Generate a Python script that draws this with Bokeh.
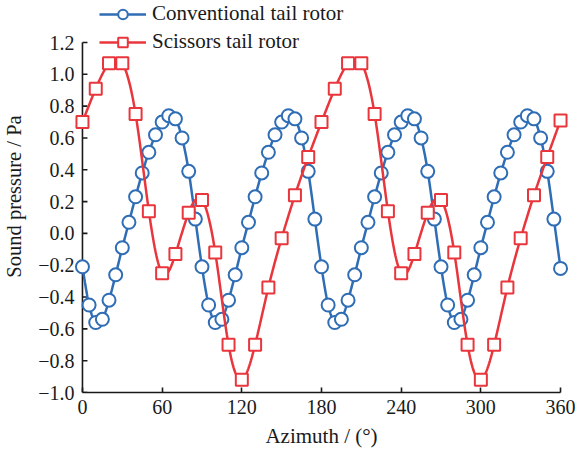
import numpy as np
from bokeh.plotting import figure
from bokeh.models import (Range1d, FixedTicker, CustomJSTickFormatter, Legend,
                          LegendItem)
from bokeh.embed import file_html
from bokeh.resources import INLINE

# ---------------- data ----------------
azimuth_conv = list(range(0, 361, 5))
pressure_conv = [
    -0.21, -0.45, -0.56, -0.54, -0.42, -0.26, -0.09, 0.07, 0.23, 0.38,
    0.51, 0.62, 0.70, 0.74, 0.72, 0.60, 0.39, 0.09,
    -0.21, -0.45, -0.56, -0.54, -0.42, -0.26, -0.09, 0.07, 0.23, 0.38,
    0.51, 0.62, 0.70, 0.74, 0.72, 0.60, 0.39, 0.09,
    -0.21, -0.45, -0.56, -0.54, -0.42, -0.26, -0.09, 0.07, 0.23, 0.38,
    0.51, 0.62, 0.70, 0.74, 0.72, 0.60, 0.39, 0.09,
    -0.21, -0.45, -0.56, -0.54, -0.42, -0.26, -0.09, 0.07, 0.23, 0.38,
    0.51, 0.62, 0.70, 0.74, 0.72, 0.60, 0.39, 0.09,
    -0.22,
]
azimuth_sci = list(range(0, 361, 10))
pressure_sci = [
    0.70, 0.91, 1.07, 1.07, 0.75, 0.14, -0.25, -0.13, 0.13, 0.21,
    -0.12, -0.70, -0.92, -0.70, -0.34, -0.03, 0.24, 0.48,
    0.70, 0.91, 1.07, 1.07, 0.75, 0.14, -0.25, -0.13, 0.13, 0.21,
    -0.12, -0.70, -0.92, -0.70, -0.34, -0.03, 0.24, 0.48,
    0.71,
]
series_names = ["Conventional tail rotor", "Scissors tail rotor"]
x_ticks = [0, 60, 120, 180, 240, 300, 360]
y_ticks = [-1.0, -0.8, -0.6, -0.4, -0.2, 0.0, 0.2, 0.4, 0.6, 0.8, 1.0, 1.2]
x_title = "Azimuth / (°)"
y_title = "Sound pressure / Pa"

BLUE = "#2f6db5"
RED = "#e8363c"
INK = "#1a1a1a"
FONT = "Liberation Serif"

# ---------------- layout constants (pixels) ----------------
W, H = 577, 450
BORDER_L, BORDER_R, BORDER_B = 74, 9, 58
PAD_X = 6            # data units of padding so edge markers are not clipped
AXIS_TOP_PX = 42     # space between canvas top and the top of the y axis
frame_w = W - BORDER_L - BORDER_R
frame_h = H - BORDER_B
x_start, x_end = x_ticks[0] - PAD_X, x_ticks[-1] + PAD_X
px_per_x = frame_w / (x_end - x_start)
px_per_y = (frame_h - AXIS_TOP_PX) / (y_ticks[-1] - y_ticks[0])
y_top = y_ticks[-1] + AXIS_TOP_PX / px_per_y
tick_len = 5 / px_per_x


def smooth(x, y, per_seg=16):
    """Natural cubic spline drawn through the data points (line rendering only)."""
    x = np.asarray(x, float)
    y = np.asarray(y, float)
    n = len(x)
    h = np.diff(x)
    A = np.zeros((n, n))
    b = np.zeros(n)
    A[0, 0] = 1.0
    A[-1, -1] = 1.0
    for i in range(1, n - 1):
        A[i, i - 1] = h[i - 1]
        A[i, i] = 2 * (h[i - 1] + h[i])
        A[i, i + 1] = h[i]
        b[i] = 6 * ((y[i + 1] - y[i]) / h[i] - (y[i] - y[i - 1]) / h[i - 1])
    M = np.linalg.solve(A, b)
    xs, ys = [], []
    for i in range(n - 1):
        t = np.linspace(x[i], x[i + 1], per_seg, endpoint=(i == n - 2))
        hi = h[i]
        s = (M[i] * (x[i + 1] - t) ** 3 / (6 * hi)
             + M[i + 1] * (t - x[i]) ** 3 / (6 * hi)
             + (y[i] / hi - M[i] * hi / 6) * (x[i + 1] - t)
             + (y[i + 1] / hi - M[i + 1] * hi / 6) * (t - x[i]))
        xs.extend(t.tolist())
        ys.extend(s.tolist())
    return xs, ys


p = figure(width=W, height=H,
           x_range=Range1d(x_start, x_end), y_range=Range1d(y_ticks[0], y_top),
           output_backend="svg", toolbar_location=None,
           min_border_left=BORDER_L, min_border_right=BORDER_R,
           min_border_top=0, min_border_bottom=BORDER_B)
p.outline_line_color = None
p.xgrid.visible = False
p.ygrid.visible = False
p.background_fill_color = "white"
p.border_fill_color = "white"

# vertical axis line and inward ticks at azimuth 0
p.segment(x0=[x_ticks[0]], y0=[y_ticks[0]], x1=[x_ticks[0]], y1=[y_ticks[-1]],
          line_color=INK, line_width=1.6)
p.segment(x0=[x_ticks[0]] * len(y_ticks), y0=y_ticks,
          x1=[x_ticks[0] + tick_len] * len(y_ticks), y1=y_ticks,
          line_color=INK, line_width=1.6)

# series
bx, by = smooth(azimuth_conv, pressure_conv)
l1 = p.line(bx, by, line_color=BLUE, line_width=2.5)
s1 = p.scatter(azimuth_conv, pressure_conv, marker="circle", size=13,
               line_color=BLUE, line_width=2, fill_color="white")
rx, ry = smooth(azimuth_sci, pressure_sci)
l2 = p.line(rx, ry, line_color=RED, line_width=2.5)
s2 = p.scatter(azimuth_sci, pressure_sci, marker="square", size=12,
               line_color=RED, line_width=2, fill_color="white")

# bottom axis
xa = p.xaxis[0]
xa.ticker = FixedTicker(ticks=x_ticks)
xa.bounds = (x_ticks[0], x_ticks[-1])
xa.axis_line_color = INK
xa.axis_line_width = 1.6
xa.major_tick_line_color = INK
xa.major_tick_line_width = 1.6
xa.major_tick_in = 5
xa.major_tick_out = 0
xa.minor_tick_in = 0
xa.minor_tick_out = 0
xa.major_label_text_font = FONT
xa.major_label_text_font_size = "20px"
xa.major_label_text_color = INK
xa.major_label_standoff = 7
xa.axis_label = x_title
xa.axis_label_text_font = FONT
xa.axis_label_text_font_size = "21px"
xa.axis_label_text_font_style = "normal"
xa.axis_label_text_color = INK
xa.axis_label_standoff = 7

# left axis: tick labels and title only (line/ticks drawn at azimuth 0)
ya = p.yaxis[0]
ya.ticker = FixedTicker(ticks=y_ticks)
ya.bounds = (y_ticks[0], 1.3)
ya.axis_line_color = None
ya.major_tick_line_color = None
ya.minor_tick_line_color = None
ya.major_tick_in = 0
ya.major_tick_out = 0
ya.major_label_standoff = 0
ya.major_label_text_font = FONT
ya.major_label_text_font_size = "20px"
ya.major_label_text_color = INK
ya.formatter = CustomJSTickFormatter(
    code="return tick.toFixed(1).replace('-', '\u2212');")
ya.axis_label = y_title
ya.axis_label_text_font = FONT
ya.axis_label_text_font_size = "20.5px"
ya.axis_label_text_font_style = "normal"
ya.axis_label_text_color = INK
ya.axis_label_standoff = 10

legend = Legend(items=[LegendItem(label=series_names[0], renderers=[l1, s1]),
                       LegendItem(label=series_names[1], renderers=[l2, s2])],
                location=(25, frame_h - 54))
legend.glyph_width = 47
legend.glyph_height = 24
legend.label_height = 24
legend.spacing = 3
legend.label_standoff = 6
legend.padding = 0
legend.margin = 0
legend.border_line_color = None
legend.background_fill_alpha = 0
legend.label_text_font = FONT
legend.label_text_font_size = "21px"
legend.label_text_color = INK
p.add_layout(legend)

open("out.html", "w").write(file_html(p, INLINE))
